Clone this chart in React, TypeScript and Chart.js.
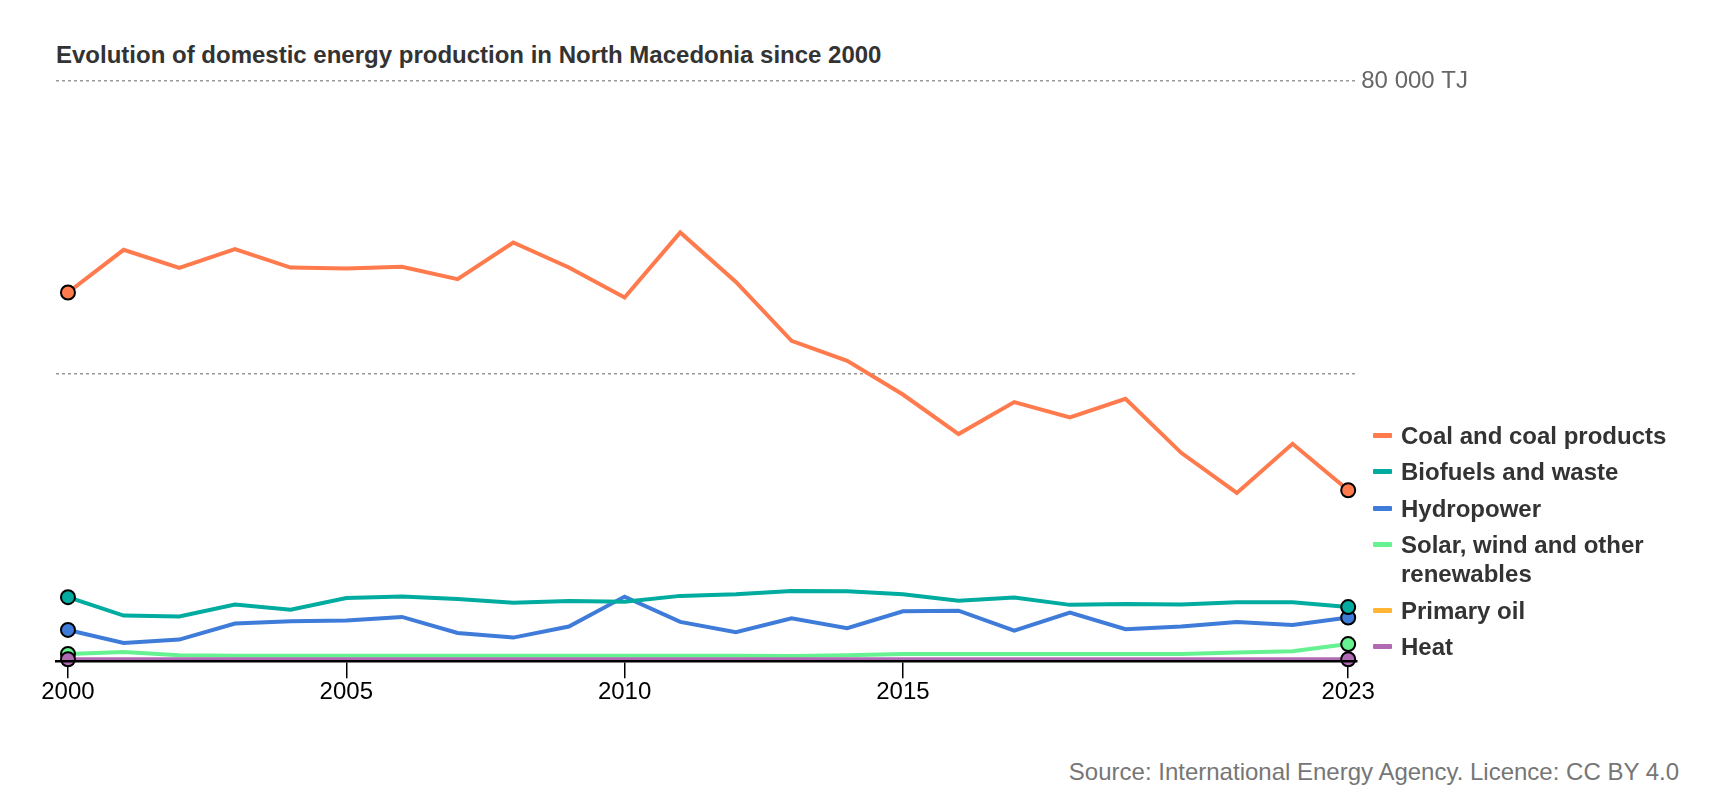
import React, { useEffect, useRef } from 'react';
import Chart from 'chart.js/auto';

const FONT = '"Liberation Sans", Arial, sans-serif';

const years = [
  2000, 2001, 2002, 2003, 2004, 2005, 2006, 2007, 2008, 2009, 2010, 2011,
  2012, 2013, 2014, 2015, 2016, 2017, 2018, 2019, 2020, 2021, 2022, 2023,
];
const tickYears = [2000, 2005, 2010, 2015, 2023];
const gridValues = [40000, 80000];

// TJ
const coal = [
  51050, 56890, 54430, 56990, 54470, 54330, 54560, 52870, 57900, 54470, 50360, 59280,
  52500, 44430, 41700, 37090, 31680, 36050, 33960, 36490, 29110, 23620, 30340, 23990,
];
const biofuels = [
  9350, 6830, 6700, 8340, 7650, 9250, 9430, 9110, 8600, 8840, 8740, 9530,
  9760, 10210, 10160, 9760, 8880, 9300, 8300, 8430, 8340, 8650, 8650, 8000,
];
const hydro = [
  4870, 3090, 3550, 5740, 6060, 6150, 6650, 4460, 3820, 5330, 9430, 5970,
  4560, 6470, 5100, 7430, 7510, 4770, 7250, 4960, 5330, 5970, 5560, 6560,
];
const solarWind = [
  1590, 1860, 1410, 1350, 1350, 1350, 1350, 1350, 1350, 1350, 1350, 1350,
  1350, 1310, 1410, 1590, 1590, 1590, 1590, 1590, 1590, 1770, 1960, 2930,
];
const primaryOil = [
  0, 0, 0, 0, 0, 0, 0, 0, 0, 0, 0, 0,
  0, 0, 0, 0, 0, 0, 0, 0, 0, 0, 0, 0,
];
const heat = [
  860, 860, 860, 860, 860, 860, 860, 860, 860, 860, 860, 860,
  860, 860, 860, 860, 860, 860, 860, 860, 860, 860, 860, 860,
];

const seriesNames = [
  'Coal and coal products',
  'Biofuels and waste',
  'Hydropower',
  'Solar, wind and other renewables',
  'Primary oil',
  'Heat',
];
const seriesColors = ['#ff7a4d', '#00ab9f', '#3f7bd8', '#66f291', '#ffb534', '#b06ab3'];
const seriesValues = [coal, biofuels, hydro, solarWind, primaryOil, heat];

const App: React.FC = () => {
  const chartRef = useRef<HTMLCanvasElement>(null);
  const chartInstance = useRef<Chart | null>(null);

  useEffect(() => {
    const oldMargin = document.body.style.margin;
    document.body.style.margin = '0';
    if (!chartRef.current) return;
    const ctx = chartRef.current.getContext('2d');
    if (!ctx) return;

    const last = years.length - 1;

    chartInstance.current = new Chart(ctx, {
      type: 'line',
      data: {
        datasets: seriesValues.map((values, i) => {
          const isOil = i === 4;
          return {
            label: seriesNames[i],
            data: values.map((v, j) => ({ x: years[j], y: v })),
            borderColor: seriesColors[i],
            backgroundColor: seriesColors[i],
            borderWidth: 4,
            tension: 0,
            pointRadius: (c: any) =>
              !isOil && (c.dataIndex === 0 || c.dataIndex === last) ? 7 : 0,
            pointBackgroundColor: seriesColors[i],
            pointBorderColor: '#000',
            pointBorderWidth: 2,
            // oil sits below the axis floor and stays hidden
            clip: (isOil ? 0 : false) as any,
            order: i === 5 ? -1 : 0,
          };
        }),
      },
      options: {
        animation: false,
        responsive: true,
        maintainAspectRatio: false,
        events: [],
        layout: { padding: { left: 56, top: 81, right: 0, bottom: 13 } },
        plugins: {
          legend: { display: false },
          tooltip: { enabled: false },
        },
        scales: {
          x: {
            type: 'linear',
            min: 1999.785,
            max: 2023.145,
            afterBuildTicks: (scale: any) => {
              scale.ticks = tickYears.map(v => ({ value: v }));
            },
            ticks: {
              callback: (v: any) => String(v),
              font: { family: FONT, size: 24 },
              color: '#000',
              padding: 0,
              maxRotation: 0,
              autoSkip: false,
            },
            grid: { drawOnChartArea: false, drawTicks: true, tickLength: 17, color: '#000', lineWidth: 1.5 },
            border: { display: true, color: '#000', width: 2.5, z: 1 } as any,
          },
          y: {
            position: 'right',
            min: 590,
            max: 80000,
            afterBuildTicks: (scale: any) => {
              scale.ticks = gridValues.map(v => ({ value: v }));
            },
            ticks: {
              callback: (v: any) => (v === 80000 ? '80 000 TJ' : ''),
              font: { family: FONT, size: 24 },
              color: '#666',
              padding: 5,
            },
            grid: { drawTicks: false, lineWidth: 1.5, color: '#999' },
            border: { display: false, dash: [3, 3] },
          },
        },
      },
    });

    return () => {
      if (chartInstance.current) {
        chartInstance.current.destroy();
        chartInstance.current = null;
      }
      document.body.style.margin = oldMargin;
    };
  }, []);

  return (
    <div style={{ position: 'relative', width: 1720, height: 800, overflow: 'hidden', fontFamily: FONT }}>
      <div
        style={{
          position: 'absolute', left: 56, top: 41, fontSize: 24, lineHeight: '28px',
          fontWeight: 'bold', color: '#333', whiteSpace: 'nowrap',
        }}
      >
        Evolution of domestic energy production in North Macedonia since 2000
      </div>
      <div style={{ position: 'absolute', left: 0, top: 0, width: 1473, height: 720 }}>
        <canvas ref={chartRef}></canvas>
      </div>
      <div style={{ position: 'absolute', left: 1373, top: 420.5 }}>
        {seriesNames.map((name, i) => (
          <div key={name} style={{ position: 'relative', paddingLeft: 28, marginBottom: 7.5, width: 290 }}>
            <span
              style={{
                position: 'absolute', left: 0, top: 12, width: 19, height: 5,
                background: seriesColors[i], borderRadius: 1,
              }}
            />
            <span style={{ fontSize: 24, lineHeight: '29px', fontWeight: 'bold', color: '#333' }}>{name}</span>
          </div>
        ))}
      </div>
      <div
        style={{
          position: 'absolute', right: 41, top: 758, fontSize: 24, lineHeight: '28px',
          color: '#767676', whiteSpace: 'nowrap',
        }}
      >
        Source: International Energy Agency. Licence: CC BY 4.0
      </div>
    </div>
  );
};

export default App;
